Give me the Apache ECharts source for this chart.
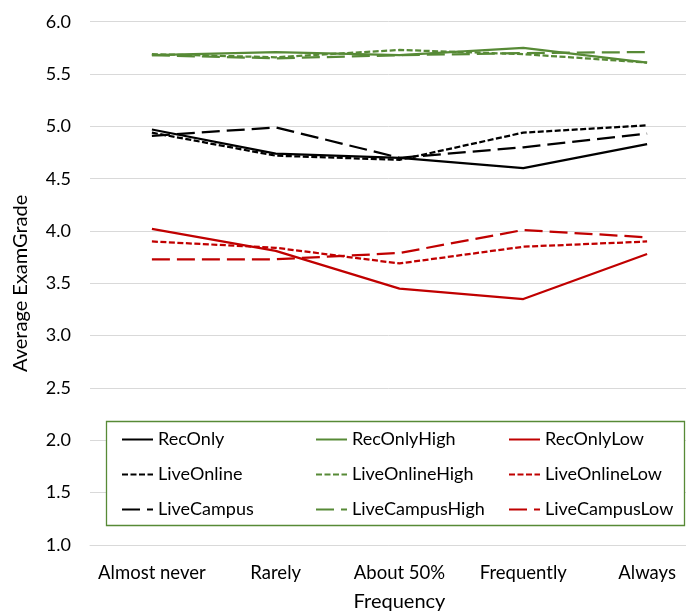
<!DOCTYPE html>
<html>
<head>
<meta charset="utf-8">
<script src="https://cdn.jsdelivr.net/npm/echarts@6/dist/echarts.min.js"></script>
<style>html,body{margin:0;padding:0;background:#fff;}#c{width:686px;height:611px;}</style>
</head>
<body>
<div id="c"></div>
<script>
const categories = ['Almost never', 'Rarely', 'About 50%', 'Frequently', 'Always'];
const yTicks = [1.0, 6.0, 0.5];

const recOnly        = [4.97, 4.74, 4.70, 4.60, 4.83];
const liveOnline     = [4.94, 4.72, 4.68, 4.94, 5.01];
const liveCampus     = [4.91, 4.99, 4.70, 4.80, 4.93];
const recOnlyHigh    = [5.68, 5.71, 5.68, 5.75, 5.61];
const liveOnlineHigh = [5.69, 5.66, 5.73, 5.69, 5.61];
const liveCampusHigh = [5.68, 5.65, 5.68, 5.70, 5.71];
const recOnlyLow     = [4.02, 3.81, 3.45, 3.35, 3.78];
const liveOnlineLow  = [3.90, 3.84, 3.69, 3.85, 3.90];
const liveCampusLow  = [3.73, 3.73, 3.79, 4.01, 3.94];

const BLACK = '#000000', GREEN = '#578A36', RED = '#C00000';
const SHORT = [6, 2.5], LONG = [18, 7];
const FONT = 'Lato';

function mk(name, data, color, type) {
  return {
    name, type: 'line', data, symbol: 'none', showSymbol: false, silent: true,
    lineStyle: { color, width: 2.25, type: type || 'solid' },
    itemStyle: { color }
  };
}

const series = [
  mk('RecOnly', recOnly, BLACK),
  mk('LiveOnline', liveOnline, BLACK, SHORT),
  mk('LiveCampus', liveCampus, BLACK, LONG),
  mk('RecOnlyHigh', recOnlyHigh, GREEN),
  mk('LiveOnlineHigh', liveOnlineHigh, GREEN, SHORT),
  mk('LiveCampusHigh', liveCampusHigh, GREEN, LONG),
  mk('RecOnlyLow', recOnlyLow, RED),
  mk('LiveOnlineLow', liveOnlineLow, RED, SHORT),
  mk('LiveCampusLow', liveCampusLow, RED, LONG)
];

function legendCol(left, names) {
  return {
    data: names, orient: 'vertical', left, top: 424, z: 20,
    itemWidth: 31, itemHeight: 14, itemGap: 14, selectedMode: false,
    itemStyle: { opacity: 0, borderWidth: 0 },
    textStyle: { fontFamily: FONT, fontSize: 18, color: '#000', lineHeight: 21 }
  };
}

const chart = echarts.init(document.getElementById('c'));
chart.setOption({
  animation: false,
  backgroundColor: '#fff',
  grid: { left: 90, top: 21.7, right: -23, bottom: 66, outerBoundsMode: 'none', containLabel: false },
  xAxis: {
    type: 'category', data: categories, boundaryGap: true,
    axisLine: { show: true, lineStyle: { color: '#d9d9d9', width: 1 } },
    axisTick: { show: false },
    axisLabel: { fontFamily: FONT, fontSize: 18.5, color: '#000', margin: 19, interval: 0 },
    name: 'Frequency', nameLocation: 'middle', nameGap: 47,
    nameTextStyle: { fontFamily: FONT, fontSize: 20, color: '#000' }
  },
  yAxis: {
    type: 'value', min: yTicks[0], max: yTicks[1], interval: yTicks[2],
    axisLine: { show: false }, axisTick: { show: false },
    splitLine: { lineStyle: { color: '#d9d9d9', width: 1 } },
    axisLabel: { fontFamily: FONT, fontSize: 18, color: '#000', margin: 19,
      formatter: v => v.toFixed(1) },
    name: 'Average ExamGrade', nameLocation: 'middle', nameRotate: 90, nameGap: 59,
    nameTextStyle: { fontFamily: FONT, fontSize: 20, color: '#000' }
  },
  legend: [
    legendCol(116, ['RecOnly', 'LiveOnline', 'LiveCampus']),
    legendCol(310, ['RecOnlyHigh', 'LiveOnlineHigh', 'LiveCampusHigh']),
    legendCol(503, ['RecOnlyLow', 'LiveOnlineLow', 'LiveCampusLow'])
  ],
  graphic: [{
    type: 'rect', z: 10, silent: true,
    shape: { x: 106.5, y: 421.5, width: 578, height: 104 },
    style: { fill: '#fff', stroke: GREEN, lineWidth: 1.3 }
  }],
  series
});
</script>
</body>
</html>
